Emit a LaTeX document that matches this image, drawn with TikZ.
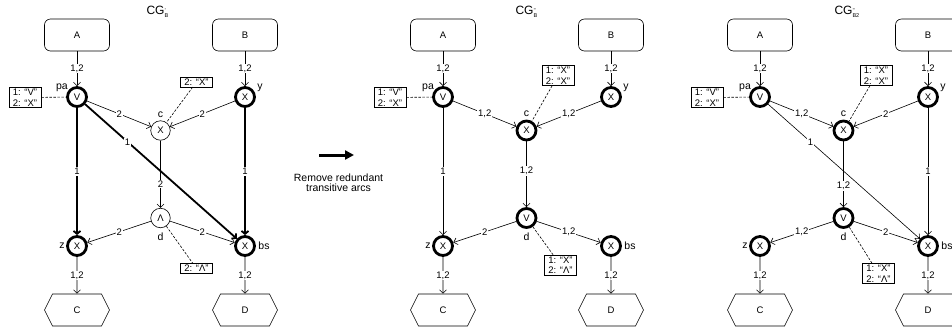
\documentclass[tikz,border=0pt]{standalone}
\usepackage{fontspec}
\setmainfont{Liberation Sans}
\usetikzlibrary{arrows.meta,shapes.symbols}

% graph title: CG with a prime mark stacked over its subscript
\newcommand\cgtitle[2]{CG\raisebox{-3pt}{\fontsize{5.5}{5.5}\selectfont\vbox{\hbox{#1}\kern-0.5pt\hbox{#2}}}}

\tikzset{
  every node/.style={font=\fontsize{9.5}{10}\selectfont},
  termbox/.style={draw, rounded corners=6pt, minimum width=65pt, minimum height=32pt, line width=0.6pt},
  hexbox/.style={draw, signal, signal to=west and east, signal pointer angle=127,
                 minimum width=65pt, minimum height=32pt, line width=0.6pt},
  opthin/.style={draw, circle, minimum size=19.5pt, inner sep=0pt, line width=0.6pt},
  opthick/.style={draw, circle, minimum size=19pt, inner sep=0pt, line width=2.8pt},
  arc/.style={line width=0.6pt, -{Straight Barb[length=3.5pt,width=7pt]}},
  heavyarc/.style={line width=1.8pt, -{Straight Barb[length=3pt,width=7pt]}},
  lab/.style={fill=white, inner sep=0.8pt},
  note/.style={draw, line width=0.6pt, inner xsep=4pt, inner ysep=1.5pt, align=left,
               font=\fontsize{9.5}{10.5}\selectfont},
  link/.style={line width=0.6pt, dash pattern=on 2.5pt off 1.5pt},
  vname/.style={font=\fontsize{10.5}{10.5}\selectfont},
  title/.style={font=\fontsize{12}{12}\selectfont, anchor=west},
}

\begin{document}
\begin{tikzpicture}[x=1pt,y=-1pt]
\useasboundingbox (0,0) rectangle (952,333);
\clip (0,0) rectangle (952,333);

% ---------------- first graph ----------------
\node[title] (t1) at (143,12) {\cgtitle{’}{B}};
\node[termbox] (p1A) at (77,35) {A};
\node[termbox] (p1B) at (245,35) {B};
\node[opthick] (p1pa) at (77,97) {V};
\node[opthick] (p1y) at (245,97) {X};
\node[opthin] (p1c) at (160.5,130.5) {X};
\node[opthin] (p1d) at (160.5,218) {Λ};
\node[opthick] (p1z) at (77,246) {X};
\node[opthick] (p1bs) at (245,246) {X};
\node[hexbox] (p1C) at (77,310) {C};
\node[hexbox] (p1D) at (245,310) {D};
\node[vname] (p1lpa) at (62,88) {pa};
\node[vname] (p1ly) at (260,88) {y};
\node[vname] (p1lc) at (160.5,115) {c};
\node[vname] (p1ld) at (160.5,237) {d};
\node[vname] (p1lz) at (62,246) {z};
\node[vname] (p1lbs) at (264,246) {bs};
\node[note] (p1npa) at (25,97.5) {1: “V”\\2: “X”};
\node[note] (p1nc) at (196.5,82) {2: “X”};
\node[note] (p1nd) at (196.5,268.5) {2: “Λ”};
\draw[link] (p1npa) -- (p1pa);
\draw[link] (p1nc) -- (p1c);
\draw[link] (p1d) -- (p1nd);
\draw[arc] (p1A) -- node[lab]{1,2} (p1pa);
\draw[arc] (p1B) -- node[lab]{1,2} (p1y);
\draw[arc] (p1pa) -- node[lab]{2} (p1c);
\draw[arc] (p1y) -- node[lab]{2} (p1c);
\draw[heavyarc] (p1pa) -- node[lab,pos=0.28]{1} (p1bs);
\draw[arc] (p1c) -- node[lab,pos=0.65]{2} (p1d);
\draw[heavyarc] (p1pa) -- node[lab]{1} (p1z);
\draw[heavyarc] (p1y) -- node[lab]{1} (p1bs);
\draw[arc] (p1d) -- node[lab]{2} (p1z);
\draw[arc] (p1d) -- node[lab]{2} (p1bs);
\draw[arc] (p1z) -- node[lab]{1,2} (p1C);
\draw[arc] (p1bs) -- node[lab]{1,2} (p1D);

% ---------------- transformation step ----------------
\coordinate (mfrom) at (319,155);
\coordinate (mto) at (354,155);
\draw[line width=3pt, -{Triangle[length=9pt,width=9pt]}] (mfrom) -- (mto);
\node[align=center, font=\fontsize{10.5}{10}\selectfont] (mtext) at (338.5,182.5) {Remove redundant\\transitive arcs};

% ---------------- second graph ----------------
\begin{scope}[xshift=366pt]
\node[title] (t2) at (146,12) {\cgtitle{’’}{B}};
\node[termbox] (p2A) at (77,35) {A};
\node[termbox] (p2B) at (245,35) {B};
\node[opthick] (p2pa) at (77,97) {V};
\node[opthick] (p2y) at (245,97) {X};
\node[opthick] (p2c) at (160.5,130.5) {X};
\node[opthick] (p2d) at (160.5,218) {V};
\node[opthick] (p2z) at (77,246) {X};
\node[opthick] (p2bs) at (245,246) {X};
\node[hexbox] (p2C) at (77,310) {C};
\node[hexbox] (p2D) at (245,310) {D};
\node[vname] (p2lpa) at (62,88) {pa};
\node[vname] (p2ly) at (260,88) {y};
\node[vname] (p2lc) at (160.5,114) {c};
\node[vname] (p2ld) at (160.5,237) {d};
\node[vname] (p2lz) at (62,246) {z};
\node[vname] (p2lbs) at (264,246) {bs};
\node[note] (p2npa) at (24,97.5) {1: “V”\\2: “X”};
\node[note] (p2nc) at (192,75.5) {1: “X”\\2: “X”};
\node[note] (p2nd) at (194.5,265) {1: “X”\\2: “Λ”};
\draw[link] (p2npa) -- (p2pa);
\draw[link] (p2nc) -- (p2c);
\draw[link] (p2d) -- (p2nd);
\draw[arc] (p2A) -- node[lab]{1,2} (p2pa);
\draw[arc] (p2B) -- node[lab]{1,2} (p2y);
\draw[arc] (p2pa) -- node[lab]{1,2} (p2c);
\draw[arc] (p2y) -- node[lab]{1,2} (p2c);
\draw[arc] (p2c) -- node[lab,pos=0.45]{1,2} (p2d);
\draw[arc] (p2pa) -- node[lab]{1} (p2z);
\draw[arc] (p2d) -- node[lab]{2} (p2z);
\draw[arc] (p2d) -- node[lab]{1,2} (p2bs);
\draw[arc] (p2z) -- node[lab]{1,2} (p2C);
\draw[arc] (p2bs) -- node[lab]{1,2} (p2D);
\end{scope}

% ---------------- third graph ----------------
\begin{scope}[xshift=683pt]
\node[title] (t3) at (148,12) {\cgtitle{’’}{B2}};
\node[termbox] (p3A) at (77,35) {A};
\node[termbox] (p3B) at (245,35) {B};
\node[opthick] (p3pa) at (77,97) {V};
\node[opthick] (p3y) at (245,97) {X};
\node[opthick] (p3c) at (160.5,130.5) {X};
\node[opthick] (p3d) at (160.5,218) {V};
\node[opthick] (p3z) at (77,246) {X};
\node[opthick] (p3bs) at (245,246) {X};
\node[hexbox] (p3C) at (77,310) {C};
\node[hexbox] (p3D) at (245,310) {D};
\node[vname] (p3lpa) at (62,88) {pa};
\node[vname] (p3ly) at (260,88) {y};
\node[vname] (p3lc) at (160.5,114) {c};
\node[vname] (p3ld) at (160.5,237) {d};
\node[vname] (p3lz) at (62,246) {z};
\node[vname] (p3lbs) at (264,246) {bs};
\node[note] (p3npa) at (24,97.5) {1: “V”\\2: “X”};
\node[note] (p3nc) at (193,75.5) {1: “X”\\2: “X”};
\node[note] (p3nd) at (195.5,273.5) {1: “X”\\2: “Λ”};
\draw[link] (p3npa) -- (p3pa);
\draw[link] (p3nc) -- (p3c);
\draw[link] (p3d) -- (p3nd);
\draw[arc] (p3A) -- node[lab]{1,2} (p3pa);
\draw[arc] (p3B) -- node[lab]{1,2} (p3y);
\draw[arc] (p3pa) -- node[lab]{1,2} (p3c);
\draw[arc] (p3y) -- node[lab]{2} (p3c);
\draw[arc] (p3pa) -- node[lab,pos=0.28]{1} (p3bs);
\draw[arc] (p3c) -- node[lab,pos=0.68]{1,2} (p3d);
\draw[arc] (p3y) -- node[lab]{1} (p3bs);
\draw[arc] (p3d) -- node[lab]{1,2} (p3z);
\draw[arc] (p3d) -- node[lab]{2} (p3bs);
\draw[arc] (p3z) -- node[lab]{1,2} (p3C);
\draw[arc] (p3bs) -- node[lab]{1,2} (p3D);
\end{scope}
\end{tikzpicture}
\end{document}
